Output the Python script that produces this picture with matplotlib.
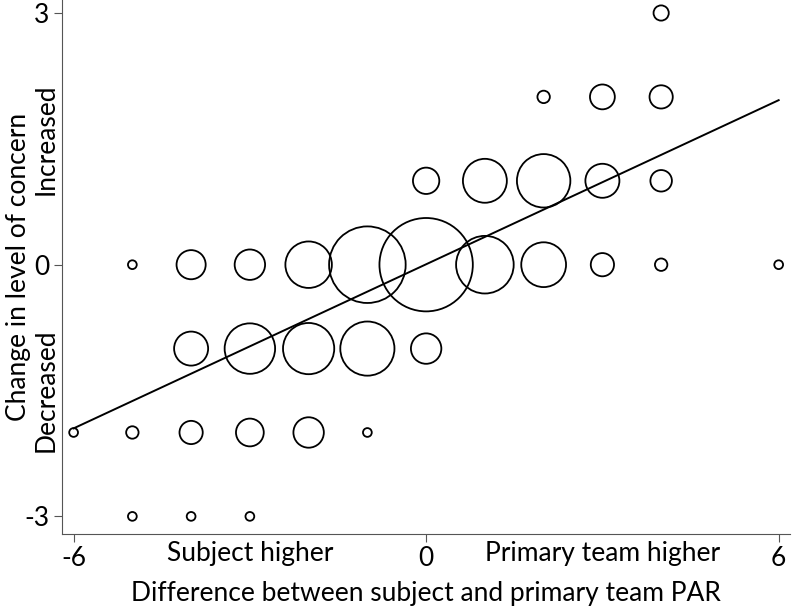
import matplotlib.pyplot as plt
import numpy as np

plt.rcParams['font.family'] = ['Lato', 'DejaVu Sans']
plt.rcParams['axes.unicode_minus'] = False

# difference (x), change in concern (y), number of subjects at each point
diff = [4,
        2, 3, 4,
        0, 1, 2, 3, 4,
        -5, -4, -3, -2, -1, 0, 1, 2, 3, 4, 6,
        -4, -3, -2, -1, 0,
        -6, -5, -4, -3, -2, -1,
        -5, -4, -3]
change = [3,
          2, 2, 2,
          1, 1, 1, 1, 1,
          0, 0, 0, 0, 0, 0, 0, 0, 0, 0, 0,
          -1, -1, -1, -1, -1,
          -2, -2, -2, -2, -2, -2,
          -3, -3, -3]
count = [3,
         2, 8, 7,
         9, 25, 37, 15, 6,
         1, 11, 12, 28, 76, 113, 43, 26, 7, 2, 1,
         15, 33, 34, 38, 12,
         1, 2, 7, 10, 12, 1,
         1, 1, 1]

# fitted line
fit_slope = 0.326
fit_intercept = 0.005

fs = 19

fig = plt.figure(figsize=(7.93, 6.10), dpi=100)
ax = fig.add_axes([0.078, 0.1246, 0.918, 0.8754])

ax.scatter(diff, change, s=np.array(count) * 40, facecolors='none',
           edgecolors='black', linewidths=1.3, zorder=2)

xs = np.array([-6, 6])
ax.plot(xs, fit_intercept + fit_slope * xs, color='black', lw=1.4, zorder=3)

ax.set_xlim(-6.2, 6.19)
ax.set_ylim(-3.21, 3.155)

ax.spines['top'].set_visible(False)
ax.spines['right'].set_visible(False)
ax.spines['left'].set_color('#555555')
ax.spines['bottom'].set_color('#555555')

ax.set_xticks([-6, 0, 6])
ax.set_yticks([-3, 0, 3])
ax.tick_params(axis='both', which='major', labelsize=fs, length=6,
               color='#555555', pad=3)
ax.set_xticks([-3, 3], labels=['Subject higher', 'Primary team higher'],
              minor=True)
ax.set_yticks([-1.5, 1.5], labels=['Decreased', 'Increased'], minor=True)
ax.tick_params(axis='both', which='minor', labelsize=fs, length=0)
ax.tick_params(axis='x', which='minor', pad=5)
ax.tick_params(axis='y', which='minor', pad=2)
for lab in ax.get_yticklabels(minor=True):
    lab.set_rotation(90)
    lab.set_va('center')

ax.set_xlabel('Difference between subject and primary team PAR', fontsize=fs)
ax.set_ylabel('Change in level of concern', fontsize=fs)
ax.xaxis.set_label_coords(0.5, -0.088)
ax.yaxis.set_label_coords(-0.043, 0.5)

fig.savefig('out.png', dpi=100)
